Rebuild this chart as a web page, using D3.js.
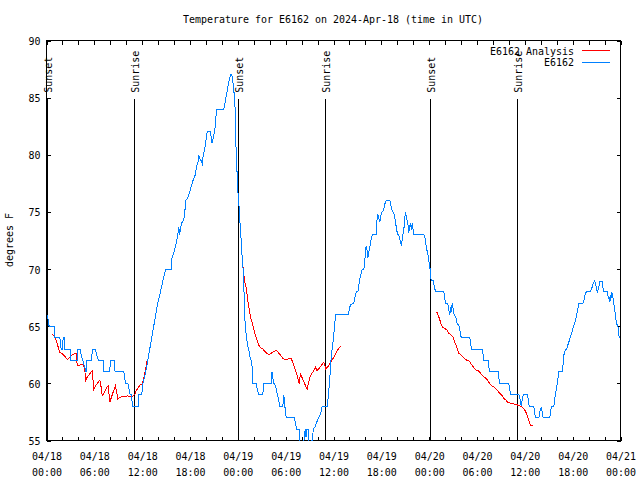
<!DOCTYPE html>
<html><head><meta charset="utf-8">
<script src="https://cdn.jsdelivr.net/npm/d3@7"></script>
<style>body{margin:0;background:#fff}</style>
</head><body><svg id="c" width="640" height="480"></svg>
<script>
const chartTitle = "Temperature for E6162 on 2024-Apr-18 (time in UTC)";
const yLabel = "degrees F";
const startTime = Date.UTC(2024, 3, 18, 0, 0);
const spanHours = 72;
const yTicks = [55, 60, 65, 70, 75, 80, 85, 90];
const seriesNames = ["E6162 Analysis", "E6162"];
const seriesColors = ["#ff0000", "#0080ff"];
const eventLabels = ["Sunset", "Sunrise", "Sunset", "Sunrise", "Sunset", "Sunrise"];
const eventHours = [0.1, 11.07, 24.12, 35.05, 48.15, 59.1];

// observations: [hours since 2024-04-18 00:00 UTC, deg F]
const obs = [
[0.05,66],[0.2,65.6],[0.33,65],[1.0,65],[1.03,64],[1.67,64],[1.84,63],[1.97,63],[2.1,64],[2.2,64],[2.3,63],[3.0,63],[3.05,62],[3.85,62],[3.92,63],[4.2,63],[4.35,62.5],[4.55,62],[4.8,61.4],[4.97,61],[5.08,62],[5.6,62],[5.8,63],[6.1,63],[6.3,62.5],[6.5,62],[7.1,62],[7.19,61],[7.94,61],[8.0,62],[8.5,62],[8.6,61],[9.7,61],[9.9,60],[10.2,60],[10.3,59.7],[10.5,59],[10.7,59],[10.75,58],[11.5,58],[11.6,59],[11.95,59],[12.1,60],
[12.45,61],[12.7,62],[12.95,63],[13.2,64],[13.45,65],[13.7,66],[13.95,67],[14.3,68],[14.6,69],[14.95,70],[15.64,70],[15.75,71],[16.0,71.5],[16.18,72],[16.47,73],[16.6,73.7],[16.7,73],[16.8,73.5],[16.93,74],[17.22,74.3],[17.35,75],[17.47,76],[17.77,76.3],[18.06,77],[18.35,77.7],[18.69,78.3],[18.81,79],[18.98,79.2],[19.1,80],[19.3,79.5],[19.45,79.5],[19.57,79],[19.65,80],[19.82,80.4],[19.95,81],[20.15,82],[20.57,82],[20.66,81.5],[20.78,81],[20.9,81.4],[21.07,82],[21.2,82.7],[21.32,84],[22.24,84],[22.37,84.45],[22.5,85],[22.66,85.6],[22.87,86.4],[23.0,86.8],[23.12,87],[23.25,87],[23.35,86.5],[23.41,86.2],[23.5,85.5],[23.58,85.3],[23.66,84],[23.7,82.6],[23.75,81.1],[23.83,79.5],[23.92,78.2],[24.0,76.9],[24.13,75.7],[24.25,74.3],[24.42,72.5],[24.55,70.9],[24.67,69.9],[24.75,68.7],[24.84,66.1],[24.96,64.8],[25.09,64],[25.25,63.3],[25.38,62.9],[25.5,62.4],[25.67,62],[25.8,61.4],[25.88,60],[26.3,60],[26.43,59.5],[26.63,59],[27.13,59],[27.26,60],[28.18,60],[28.22,60.7],[28.3,61],[28.39,60.5],[28.51,60],[28.72,59.8],[28.93,59.1],[29.14,58.5],[29.27,58],[29.65,58],[29.69,58.5],[29.77,59],[29.85,58.2],[29.98,57.6],[30.07,57],[31.11,57],[31.23,56.5],[31.36,56],[31.74,56],[31.78,55.2],[31.86,54],[32.2,54],[32.3,55],[32.45,56],[32.55,55.3],[32.65,56],[32.8,56],[32.9,54],[33.1,54],[33.2,55],[33.35,54.5],[33.45,56],[33.7,56.2],[33.95,56.7],[34.16,57],[34.37,57.3],[34.58,58],[35.2,58],[35.35,58.8],[35.54,60.5],[35.71,62.3],[35.92,63.5],[36.04,64.3],[36.17,65.3],[36.25,66],[37.84,66],[37.93,66.3],[38.13,66.9],[38.55,67],[38.64,67.4],[38.76,67.75],[38.89,68],[39.09,68.1],[39.18,68.6],[39.3,69.15],[39.47,69.6],[39.6,70],[39.81,70],[39.93,70.75],[40.01,71.6],[40.1,72],[40.22,71.6],[40.31,71],[40.43,71.5],[40.52,71.9],[40.64,72.2],[40.77,72.8],[40.93,73],[41.35,73],[41.39,73.5],[41.48,74.5],[41.56,74.8],[41.69,74.4],[41.81,74.1],[41.9,74.6],[42.1,75],[42.23,75.1],[42.32,75.3],[42.44,75.7],[42.61,76],[43.07,76],[43.15,75.7],[43.27,75.4],[43.36,75.1],[43.48,75],[43.57,74.9],[43.69,74.5],[43.77,74.2],[43.86,73.7],[43.99,73.2],[44.11,73],[44.28,72.8],[44.41,72.35],[44.53,72.06],[44.62,72.64],[44.83,73.5],[44.91,74.25],[45.03,75],[45.12,74.6],[45.24,74.25],[45.37,73.8],[45.45,73.2],[45.53,73.67],[45.66,74],[45.79,73.4],[45.87,74],[46.0,73.4],[46.08,73],[47.33,73],[47.46,72.8],[47.54,72.35],[47.67,71.8],[47.84,71.3],[47.96,70.75],[48.09,70.17],[48.17,69.58],[48.25,69],[48.5,69],[48.67,68.42],[48.8,68],[49.84,68],[49.93,67.54],[50.05,67],[50.34,67],[50.47,66.38],[50.59,66],[50.68,66.67],[50.76,66.23],[50.89,67],[51.01,66.52],[51.1,66.08],[51.22,65.94],[51.39,65.65],[51.51,65.21],[51.72,65.06],[51.85,64.63],[52.02,64],[53.1,64],[53.19,63.46],[53.31,63],[54.65,63],[54.78,62.44],[54.86,62],[55.4,62],[55.49,61.42],[55.57,61],[56.66,61],[56.74,60.54],[56.82,60],[57.99,60],[58.12,59.43],[58.21,59],[59.25,59],[59.38,58.65],[59.54,58.06],[59.67,58.5],[59.79,59],[60.3,59],[60.42,58.65],[60.55,58],[61.13,58],[61.22,57.48],[61.34,57],[61.76,57],[61.88,57.48],[62.05,57.92],[62.18,57.48],[62.3,57],[63.14,57],[63.22,57.48],[63.35,58],[63.64,58],[63.72,58.5],[63.85,59.08],[63.98,59.58],[64.14,60.4],[64.27,61],[64.69,61],[64.81,61.71],[64.89,62.44],[64.98,62.73],[65.19,63],[65.31,63.11],[65.44,63.46],[65.61,63.81],[65.73,64.1],[65.94,64.57],[66.07,64.92],[66.23,65.21],[66.36,65.5],[66.48,65.94],[66.65,66.52],[66.78,67],[67.28,67],[67.4,67.25],[67.53,67.69],[67.7,68],[68.24,68],[68.32,68.27],[68.45,68.42],[68.57,68.77],[68.74,68.94],[68.87,68.77],[68.95,68.42],[69.08,68],[69.29,68.42],[69.37,68.94],[69.7,68.94],[69.79,68.42],[69.91,68],[70.33,68],[70.46,67.54],[70.62,67.25],[70.71,67.69],[70.79,67.25],[70.87,68],[70.96,67.83],[71.08,67.4],[71.17,66.96],[71.29,66.38],[71.38,65.79],[71.5,65.21],[71.67,65.06],[71.75,64.48],[71.84,64]
];

// analysis runs: [hours since start, deg F]
const analysis1 = [
[0.63,64.25],[1.0,64.2],[1.13,63.9],[1.34,63.46],[1.55,63.0],[1.67,62.7],[1.97,62.6],[2.17,62.44],[2.38,62.3],[2.59,62.1],[2.8,62.2],[3.01,62.35],[3.22,62.5],[3.55,62.6],[3.72,62.6],[3.85,61.56],[4.06,61.56],[4.35,61.65],[4.6,61.7],[4.81,61.2],[4.89,60.25],[5.1,60.54],[5.43,60.83],[5.73,61.1],[5.94,59.5],[6.15,59.8],[6.36,59.96],[6.69,60.3],[6.77,60.1],[6.98,58.94],[7.19,59.1],[7.4,59.4],[7.61,59.7],[7.75,59.8],[7.94,58.35],[8.15,58.8],[8.44,59.4],[8.65,59.8],[8.95,58.65],[9.28,58.8],[10.12,58.9],[10.75,58.85],[11.04,59.0],[11.29,59.4],[11.58,59.7],[11.79,59.9],[12.0,59.96],[12.2,60.4],[12.4,61.1],[12.63,62.0],[12.84,62.3]
];
const analysis2 = [
[24.62,70.4],[24.67,70.03],[24.84,69.0],[25.09,68.2],[25.3,67.0],[25.59,65.8],[25.88,65.1],[26.13,64.4],[26.51,63.6],[26.72,63.2],[27.13,63.0],[27.68,62.6],[27.89,62.5],[28.39,62.73],[28.85,62.88],[29.27,62.53],[29.69,62.15],[29.98,62.06],[30.69,62.2],[31.02,61.56],[31.44,60.7],[31.69,59.96],[31.86,60.83],[32.15,60.34],[32.49,59.8],[32.7,59.5],[32.82,59.96],[33.12,60.7],[33.53,61.1],[33.74,61.4],[33.95,61.1],[34.45,61.56],[34.79,61.85],[35.04,61.27],[35.42,61.56],[36.04,62.3],[36.46,62.88],[36.88,63.23]
];
const analysis3 = [
[48.8,66.17],[49.01,66.17],[49.13,65.94],[49.3,65.65],[49.42,65.35],[49.55,65.06],[49.76,64.86],[50.05,64.77],[50.26,64.63],[50.47,64.39],[50.68,64.25],[50.97,64.1],[51.1,63.84],[51.22,63.6],[51.39,63.31],[51.51,63.02],[51.72,62.64],[51.93,62.52],[52.14,62.38],[52.35,62.23],[52.56,62.09],[52.77,62.0],[53.06,61.94],[53.19,61.77],[53.4,61.56],[53.61,61.36],[53.81,61.18],[54.11,61.13],[54.36,60.98],[54.57,60.75],[54.78,60.6],[55.07,60.48],[55.28,60.34],[55.49,60.1],[55.7,59.9],[55.91,59.75],[56.2,59.67],[56.45,59.46],[56.74,59.23],[56.95,59.08],[57.16,58.94],[57.37,58.7],[57.58,58.56],[57.87,58.35],[58.21,58.27],[58.54,58.21],[58.83,58.15],[59.12,58.1],[59.46,57.98],[59.67,57.92],[59.88,57.77],[60.09,57.57],[60.21,57.33],[60.38,57.04],[60.5,56.75],[60.71,56.31],[61.05,56.31]
];

const FONT = "'DejaVu Sans Mono', monospace";
const CW = 6; // char advance
const svg = d3.select("#c");
const L = 46, R = 620, T = 40, B = 440;
const toDate = h => new Date(startTime + h * 3600e3);
const x = d3.scaleUtc().domain([toDate(0), toDate(spanHours)]).range([L + 0.5, R + 0.5]);
const y = d3.scaleLinear().domain([55, 90]).range([B + 0.5, T + 0.5]);

function txt(sel, s) {
  return sel.text(s).attr("font-family", FONT).attr("font-size", 11)
    .attr("textLength", s.length * CW).attr("lengthAdjust", "spacingAndGlyphs").attr("fill", "#000");
}

svg.append("defs").append("clipPath").attr("id", "clip")
  .append("rect").attr("x", L).attr("y", T).attr("width", R - L + 1).attr("height", B - T + 1);

// axes (ticks inward)
const major = d3.utcHour.every(6), minor = d3.utcHour.every(2);
function styleAxis(g) {
  g.select(".domain").remove();
  g.selectAll("line").attr("stroke", "#000").attr("shape-rendering", "crispEdges");
}
svg.append("g").attr("transform", `translate(0,${B + 0.5})`)
  .call(d3.axisBottom(x).ticks(minor).tickSize(-4).tickFormat("")).call(styleAxis);
svg.append("g").attr("transform", `translate(0,${T + 0.5})`)
  .call(d3.axisTop(x).ticks(minor).tickSize(-4).tickFormat("")).call(styleAxis);
const gx = svg.append("g").attr("transform", `translate(0,${B + 0.5})`)
  .call(d3.axisBottom(x).ticks(major).tickSize(-4).tickFormat("")).call(styleAxis);
gx.selectAll(".tick").each(function(d) {
  const g = d3.select(this);
  g.selectAll("text").remove();
  g.append("text").attr("text-anchor", "middle").attr("y", 19).call(txt, d3.utcFormat("%m/%d")(d));
  g.append("text").attr("text-anchor", "middle").attr("y", 35).call(txt, d3.utcFormat("%H:%M")(d));
});
const gy = svg.append("g").attr("transform", `translate(${L + 0.5},0)`)
  .call(d3.axisLeft(y).tickValues(yTicks).tickSize(-4).tickPadding(6)).call(styleAxis);
gy.selectAll(".tick text").each(function(d) {
  d3.select(this).attr("dy", null).attr("y", 4).attr("text-anchor", "end").call(txt, String(d));
});
svg.append("g").attr("transform", `translate(${R + 0.5},0)`)
  .call(d3.axisRight(y).tickValues(yTicks).tickSize(-4).tickFormat("")).call(styleAxis);

// border
svg.append("rect").attr("x", L + 0.5).attr("y", T + 0.5).attr("width", R - L).attr("height", B - T)
  .attr("fill", "none").attr("stroke", "#000").attr("shape-rendering", "crispEdges");

// sunrise/sunset markers
const ev = svg.append("g");
eventHours.forEach((h, i) => {
  const xx = Math.round(x(toDate(h)) - 0.5) + 0.5;
  ev.append("line").attr("x1", xx).attr("x2", xx).attr("y1", y(85) + 1).attr("y2", y(55))
    .attr("stroke", "#000").attr("shape-rendering", "crispEdges");
  ev.append("text").attr("transform", `translate(${xx + 4},${y(85) - 5}) rotate(-90)`)
    .call(txt, eventLabels[i]);
});

// series
const line = d3.line().x(d => x(toDate(d[0]))).y(d => y(d[1]));
const plot = svg.append("g").attr("clip-path", "url(#clip)");
[analysis1, analysis2, analysis3].forEach(run => {
  plot.append("path").attr("d", line(run)).attr("fill", "none")
    .attr("stroke", seriesColors[0]).attr("stroke-width", 1).attr("shape-rendering", "crispEdges");
});
plot.append("path").attr("d", line(obs)).attr("fill", "none")
  .attr("stroke", seriesColors[1]).attr("stroke-width", 1).attr("shape-rendering", "crispEdges");

// legend
seriesNames.forEach((n, i) => {
  const ly = 50.5 + i * 11.5;
  svg.append("text").attr("x", 574).attr("y", ly + 4).attr("text-anchor", "end").call(txt, n);
  svg.append("line").attr("x1", 582).attr("x2", 610).attr("y1", ly).attr("y2", ly)
    .attr("stroke", seriesColors[i]).attr("shape-rendering", "crispEdges");
});

// title and y label
svg.append("text").attr("x", 333).attr("y", 23).attr("text-anchor", "middle").call(txt, chartTitle);
svg.append("text").attr("transform", "translate(13,240) rotate(-90)").attr("text-anchor", "middle").call(txt, yLabel);
</script></body></html>
